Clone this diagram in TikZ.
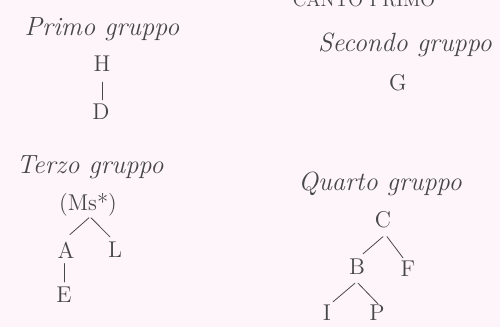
\documentclass[tikz,border=0pt]{standalone}
\usetikzlibrary{positioning}
\begin{document}
\begin{tikzpicture}
% Groups of the manuscripts, scanned page
\def\px{0.02cm}
\providecommand{\siglaInk}{black!72}
\providecommand{\siglaPaper}{white!96!magenta}
\tikzset{
  sigla/.style={text=\siglaInk, inner sep=0pt, font=\fontsize{13}{15}\selectfont},
  gruppo/.style={text=\siglaInk, inner sep=0pt, font=\fontsize{15}{17}\selectfont\itshape},
  stem/.style={draw=\siglaInk, line width=0.45pt, line cap=round},
}
\begin{scope}[x=\px, y=-\px]
  % Page and frame
  \useasboundingbox[fill=\siglaPaper] (0,0) rectangle (500,327);
  \clip (0,0) rectangle (500,327);
  % Running head, cut at the top edge
  \node[sigla, anchor=base, font=\fontsize{11}{12}\selectfont] (head) at (364,7) {CANTO PRIMO};
  % Group titles
  \node[gruppo] (primo) at (102,29) {Primo gruppo};
  \node[gruppo] (secondo) at (405,45) {Secondo gruppo};
  \node[gruppo] (terzo) at (90,167) {Terzo gruppo};
  \node[gruppo] (quarto) at (380,184) {Quarto gruppo};
  % First group
  \node[sigla] (h) at (102,64) {H};
  \node[sigla] (d) at (101,112) {D};
  % Second group
  \node[sigla] (g) at (398,83) {G};
  % Third group
  \node[sigla] (ms) at (88,205) {(Ms*)};
  \node[sigla] (a) at (66,250) {A};
  \node[sigla] (l) at (115,250) {L};
  \node[sigla] (e) at (64,295) {E};
  % Fourth group
  \node[sigla] (c) at (383,220) {C};
  \node[sigla] (b) at (357,267) {B};
  \node[sigla] (f) at (408,269) {F};
  \node[sigla] (i) at (327,313) {I};
  \node[sigla] (p) at (377,313) {P};
  % Stemma lines
  \draw[stem] ([shift={(0,10)}]h.south) -- ([shift={(1,-4)}]d.north);
  \draw[stem] ([shift={(1,1)}]ms.south) -- ([shift={(4,-7)}]a.north);
  \draw[stem] ([shift={(3,1)}]ms.south) -- ([shift={(-5,-5)}]l.north);
  \draw[stem] ([shift={(-2,5)}]a.south) -- ([shift={(0,-5)}]e.north);
  \draw[stem] ([shift={(0,8)}]c.south) -- ([shift={(6,-5)}]b.north);
  \draw[stem] ([shift={(4,8)}]c.south) -- ([shift={(-5,-3)}]f.north);
  \draw[stem] ([shift={(-2,8)}]b.south) -- ([shift={(6,-3)}]i.north);
  \draw[stem] ([shift={(1,8)}]b.south) -- ([shift={(1,-1)}]p.north);
\end{scope}
\end{tikzpicture}
\end{document}
